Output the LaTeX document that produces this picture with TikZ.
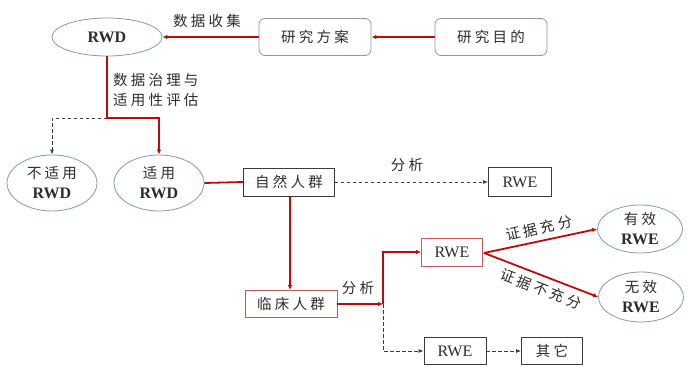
\documentclass[tikz,border=0pt]{standalone}
\usepackage{fontspec}
\setmainfont{Liberation Serif}
\newfontfamily\cjk[LetterSpace=22]{Noto Sans CJK SC}
\usetikzlibrary{arrows.meta,shapes.geometric}
\definecolor{redline}{RGB}{192,10,10}
\definecolor{ellb}{RGB}{130,155,178}
\definecolor{rboxb}{RGB}{140,155,170}
\definecolor{pinkb}{RGB}{196,90,90}
\definecolor{darkb}{RGB}{60,60,60}
\definecolor{txt}{RGB}{45,45,45}
\tikzset{
  every node/.style={text=txt},
  ell/.style={ellipse,draw=ellb,line width=0.8pt,inner sep=0pt,align=center,font=\fontsize{14.5}{20}\selectfont},
  rbox/.style={rectangle,rounded corners=6pt,draw=rboxb,line width=0.8pt,minimum width=112pt,minimum height=37pt,inner sep=0pt,font=\fontsize{14.5}{18}\selectfont\cjk},
  sbox/.style={rectangle,draw=darkb,line width=0.8pt,inner sep=0pt,minimum height=28pt,font=\fontsize{14.5}{18}\selectfont},
  pbox/.style={sbox,draw=pinkb},
  rwetxt/.style={font=\fontsize{16}{18}\selectfont},
  lab/.style={font=\fontsize{14.5}{20}\selectfont\cjk,inner sep=0pt},
  redarr/.style={draw=redline,line width=1.8pt,-{Latex[length=5pt,width=4.5pt]}},
  redln/.style={draw=redline,line width=1.8pt},
  dasharr/.style={draw=darkb,line width=0.9pt,dash pattern=on 3.5pt off 2.5pt,-{Latex[length=5pt,width=4pt]}}
}
\begin{document}
\begin{tikzpicture}[x=1pt,y=-1pt]
\useasboundingbox[fill=white] (0,0) rectangle (697,375);
% nodes
\node[ell,minimum width=110pt,minimum height=38pt,font=\fontsize{16}{18}\selectfont\bfseries] (rwd) at (107,37) {RWD};
\node[rbox] (fa) at (315,37) {研究方案};
\node[rbox] (md) at (491,37) {研究目的};
\node[ell,minimum width=90pt,minimum height=56pt] (bsy) at (52,183) {{\cjk 不适用}\\{\fontsize{16}{20}\selectfont\bfseries RWD}};
\node[ell,minimum width=90pt,minimum height=56pt] (sy) at (159,183) {{\cjk 适用}\\{\fontsize{16}{20}\selectfont\bfseries RWD}};
\node[sbox,minimum width=91pt,minimum height=28pt] (zr) at (289,182) {\cjk 自然人群};
\node[sbox,rwetxt,minimum width=63pt,minimum height=29pt] (rwe1) at (520,182) {RWE};
\node[pbox,minimum width=92pt,minimum height=27pt] (lc) at (291,304) {\cjk 临床人群};
\node[pbox,rwetxt,minimum width=61pt,minimum height=28pt] (rwe2) at (452,252) {RWE};
\node[sbox,rwetxt,minimum width=62pt,minimum height=27pt] (rwe3) at (455,351) {RWE};
\node[sbox,minimum width=61pt,minimum height=27pt] (qt) at (552,351) {\cjk 其它};
\node[ell,minimum width=85pt,minimum height=48pt] (yx) at (640,229) {{\cjk 有效}\\{\fontsize{16}{20}\selectfont\bfseries RWE}};
\node[ell,minimum width=85pt,minimum height=50pt] (wx) at (641,297) {{\cjk 无效}\\{\fontsize{16}{20}\selectfont\bfseries RWE}};
% coordinates
\coordinate (c1) at (107,118);
\coordinate (c2) at (383,304);
% connectors
\draw[redarr] (md.west) -- (fa.east);
\draw[redarr] (fa.west) -- (rwd.east);
\node[lab] (l1) at (207,21) {数据收集};
\draw[dasharr] (c1) -| (bsy.north);
\draw[redarr] (rwd.south) -- (c1) -| (sy.north);
\node[lab,align=left,anchor=west] (l2) at (113,90) {数据治理与\\适用性评估};
\draw[redln] (sy.east) -- (zr.west);
\draw[dasharr] (zr.east) -- (rwe1.west);
\node[lab] (l3) at (407,165) {分析};
\draw[redarr] (zr.south -| 290,0) -- (lc.north -| 290,0);
\draw[dasharr] (c2) |- (rwe3.west);
\draw[redarr] (lc.east) -- (c2);
\draw[redarr] (c2) |- (rwe2.west);
\node[lab] (l4) at (358,288) {分析};
\draw[dasharr] (rwe3.east) -- (qt.west);
\coordinate (c3) at (484,253);
\draw[redarr] (c3) -- (yx.west);
\draw[redarr] (c3) -- (wx.west);
\node[lab,rotate=13] (l5) at (539,228) {证据充分};
\node[lab,rotate=-21] (l6) at (541,289) {证据不充分};
\end{tikzpicture}
\end{document}
